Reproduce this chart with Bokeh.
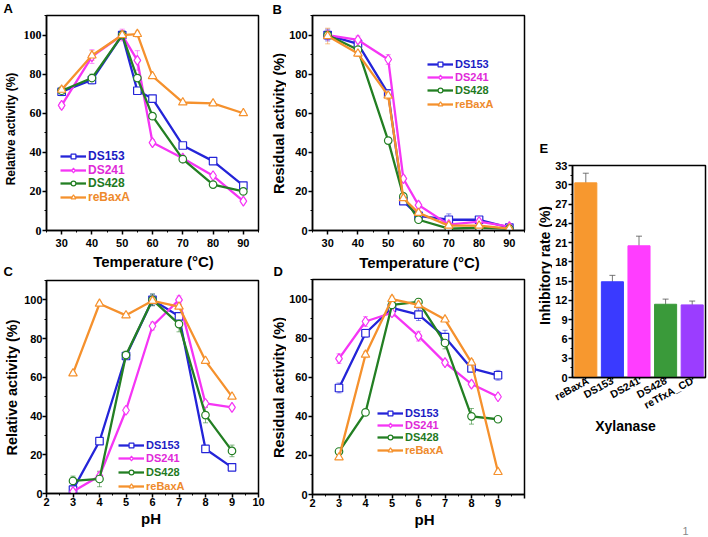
import math
from bokeh.plotting import figure
from bokeh.models import (ColumnDataSource, Whisker, TeeHead, Legend, LegendItem, Label,
                          SingleIntervalTicker, FactorRange, Range1d)
from bokeh.layouts import row, column
from bokeh.embed import file_html
from bokeh.resources import INLINE

SANS = "Liberation Sans"
SERIF = "Liberation Serif"

# ---------------- data ----------------
series = ["DS153", "DS241", "DS428", "reBaxA"]

temp = [30, 40, 50, 55, 60, 70, 80, 90]
ph = [3, 4, 5, 6, 7, 8, 9]

# A: relative activity vs temperature
a_ds153 = [71, 77, 100, 71.5, 67.5, 43.5, 35.5, 23]
a_ds241 = [64, 89, 100, 87, 45, 37, 28, 15]
a_ds428 = [71.5, 78, 100, 78, 58.5, 36.5, 23.5, 20]
a_rebaxa = [72, 89.5, 100, 100.5, 79, 65.5, 65, 60]
a_err_ds153 = [2, 2, 2, 1, 1.5, 1, 1, 1]
a_err_ds241 = [1.5, 3.5, 3, 5, 1.5, 1, 1, 1]
a_err_ds428 = [1.5, 2, 2, 1.5, 1, 1, 1, 1]
a_err_rebaxa = [1.5, 2.5, 2, 1.5, 1, 1, 1, 1]

# B: residual activity vs temperature
b_ds153 = [100, 95.5, 70, 15, 7.5, 5.5, 5.5, 1.5]
b_ds241 = [100, 97.5, 87.5, 26.5, 13, 3, 4.5, 2]
b_ds428 = [100, 92.5, 46, 17.5, 5.5, 1, 1.5, 1]
b_rebaxa = [99.5, 90.5, 69, 16.5, 9, 2.5, 2.5, 1]
b_err_ds153 = [3, 2, 2, 1.5, 1, 3, 1.5, 1]
b_err_ds241 = [2, 2, 2.5, 1.5, 1.5, 1, 1.5, 1]
b_err_ds428 = [2, 1.5, 1.5, 1, 1, 0.5, 0.5, 0.5]
b_err_rebaxa = [4, 1.5, 2, 1, 1, 0.5, 0.5, 0.5]

# C: relative activity vs pH
c_ds153 = [2, 27, 71, 100, 91.5, 23, 13.5]
c_ds241 = [1, 9, 43, 86.5, 100, 46.5, 44.5]
c_ds428 = [6.5, 7.5, 71.5, 100, 87.5, 40.5, 22]
c_rebaxa = [62, 98, 92, 99.5, 96.5, 68.5, 50]
c_err_ds153 = [1, 1.5, 1.5, 3, 2, 1, 1]
c_err_ds241 = [1, 2, 1.5, 2, 2, 1.5, 1]
c_err_ds428 = [2.5, 4, 2, 3, 4, 4, 3]
c_err_rebaxa = [1, 1, 1, 1.5, 1, 1, 1]

# D: residual activity vs pH
d_ds153 = [54.5, 82.5, 95.5, 92, 80.5, 64.5, 61]
d_ds241 = [69.5, 88.5, 93, 81, 67.5, 56.5, 50]
d_ds428 = [22, 42, 97, 98.5, 77.5, 40, 38.5]
d_rebaxa = [19, 71.5, 100, 97, 89.5, 67.5, 11.5]
d_err_ds153 = [2.5, 2, 2, 3, 3.5, 1.5, 2.5]
d_err_ds241 = [2.5, 2.5, 2, 2.5, 1.5, 1.5, 1]
d_err_ds428 = [1, 1, 1.5, 1.5, 3, 4, 1]
d_err_rebaxa = [1, 1.5, 1.5, 1.5, 1, 1.5, 1]

# E: inhibitory rate
e_names = ["reBaxA", "DS153", "DS241", "DS428", "reTfxA_CD"]
e_vals = [30.3, 14.9, 20.5, 11.4, 11.3]
e_errs = [1.5, 1.0, 1.5, 0.8, 0.6]

# ---------------- styles ----------------
line_colors = {"DS153": "#2424d8", "DS241": "#f535f5", "DS428": "#237f23", "reBaxA": "#f5912d"}
text_colors = {"DS153": "#1c1cc4", "DS241": "#e02ad8", "DS428": "#1f7a1f", "reBaxA": "#ee8a2c"}
markers = {"DS153": "square", "DS241": "diamond", "DS428": "circle", "reBaxA": "triangle"}
msizes = {"DS153": 7.5, "DS241": 10, "DS428": 7.5, "reBaxA": 8.5}
bar_colors = ["#f7982f", "#3a3aff", "#ff3dff", "#3a9a3a", "#9b3dff"]
H = 536


def style_axes(p, ytick_font=SANS, ytick_size="11px", xtick_size="11px", xstand=4, ystand=1):
    p.xgrid.visible = False
    p.ygrid.visible = False
    p.outline_line_color = "black"
    p.outline_line_width = 1.5
    p.outline_line_alpha = 1.0
    for ax in (p.xaxis[0], p.yaxis[0]):
        ax.axis_line_width = 1.5
        ax.major_tick_line_width = 1.5
        ax.minor_tick_line_width = 1.0
        ax.major_tick_in = 0
        ax.major_tick_out = 4
        ax.minor_tick_in = 0
        ax.minor_tick_out = 2
        ax.major_label_text_font_style = "bold"
        ax.major_label_text_color = "black"
    p.xaxis[0].major_label_standoff = xstand
    p.yaxis[0].major_label_standoff = ystand
    p.xaxis[0].major_label_text_font = SANS
    p.xaxis[0].major_label_text_font_size = xtick_size
    p.yaxis[0].major_label_text_font = ytick_font
    p.yaxis[0].major_label_text_font_size = ytick_size


def add_text(p, text, x, y, size="13px", angle=0.0, align="left", color="black", bold=True):
    p.add_layout(Label(x=x, y=y, x_units="screen", y_units="screen", text=text, angle=angle,
                       text_font=SANS, text_font_style="bold" if bold else "normal",
                       text_font_size=size, text_baseline="middle", text_align=align,
                       text_color=color))


def strip(width, height):
    s = figure(width=width, height=height, x_range=Range1d(0, 1), y_range=Range1d(0, 1),
               x_axis_type=None, y_axis_type=None, output_backend="svg",
               toolbar_location=None, min_border_left=0, min_border_right=0,
               min_border_top=0, min_border_bottom=0)
    s.outline_line_color = None
    s.xgrid.visible = False
    s.ygrid.visible = False
    return s


def line_panel(xs, ys, errs, x_range, x_interval, width, height, borders,
               legend_x, legend_ys, legend_font, xstand, ystand,
               ytick_font=SANS, ytick_size="11px", hide_last=False):
    left, right, top, bottom = borders
    p = figure(width=width, height=height, x_range=Range1d(*x_range), y_range=Range1d(0, 110),
               output_backend="svg", toolbar_location=None,
               min_border_left=left, min_border_right=right,
               min_border_top=top, min_border_bottom=bottom)
    p.xaxis[0].ticker = SingleIntervalTicker(interval=x_interval, num_minor_ticks=2)
    p.yaxis[0].ticker = SingleIntervalTicker(interval=20, num_minor_ticks=2)
    style_axes(p, ytick_font=ytick_font, ytick_size=ytick_size, xstand=xstand, ystand=ystand)
    if hide_last:
        p.xaxis[0].major_label_overrides = {x_range[1]: ""}
    for i, name in enumerate(series):
        c = line_colors[name]
        vals = ys[name]
        er = errs[name]
        wsrc = ColumnDataSource(dict(x=xs, upper=[v + e for v, e in zip(vals, er)],
                                     lower=[v - e for v, e in zip(vals, er)]))
        p.add_layout(Whisker(source=wsrc, base="x", upper="upper", lower="lower",
                             line_color=c, line_alpha=0.55, line_width=1,
                             upper_head=TeeHead(size=5, line_color=c, line_alpha=0.55, line_width=1),
                             lower_head=TeeHead(size=5, line_color=c, line_alpha=0.55, line_width=1)))
        lr = p.line(xs, vals, line_color=c, line_width=2.3)
        sr = p.scatter(xs, vals, marker=markers[name], size=msizes[name], line_color=c,
                       line_width=1.2, fill_color="white")
        leg = Legend(items=[LegendItem(label=name, renderers=[lr, sr])],
                     location=(legend_x, legend_ys[i]), orientation="vertical",
                     background_fill_alpha=0, border_line_alpha=0,
                     padding=0, margin=0, spacing=0,
                     glyph_width=26, glyph_height=12, label_height=12,
                     label_standoff=2,
                     label_text_font=SANS, label_text_font_style="bold",
                     label_text_font_size=legend_font, label_text_color=text_colors[name])
        p.add_layout(leg)
    return p


A = line_panel(temp,
               {"DS153": a_ds153, "DS241": a_ds241, "DS428": a_ds428, "reBaxA": a_rebaxa},
               {"DS153": a_err_ds153, "DS241": a_err_ds241, "DS428": a_err_ds428, "reBaxA": a_err_rebaxa},
               (25, 95), 10, 245, 252, (23, 7, 15, 22), 14, [67, 53, 40, 26], "12px", 4, 1,
               ytick_font=SERIF, ytick_size="12px")
B = line_panel(temp,
               {"DS153": b_ds153, "DS241": b_ds241, "DS428": b_ds428, "reBaxA": b_rebaxa},
               {"DS153": b_err_ds153, "DS241": b_err_ds241, "DS428": b_err_ds428, "reBaxA": b_err_rebaxa},
               (25, 95), 10, 244, 252, (24, 6, 15, 22), 115, [160, 147, 134, 120], "11px", 4, 1)
C = line_panel(ph,
               {"DS153": c_ds153, "DS241": c_ds241, "DS428": c_ds428, "reBaxA": c_rebaxa},
               {"DS153": c_err_ds153, "DS241": c_err_ds241, "DS428": c_err_ds428, "reBaxA": c_err_rebaxa},
               (2, 10), 1, 245, 233, (23, 7, 2, 18), 72, [42, 29, 15, 1], "11px", 0, 0)
D = line_panel(ph,
               {"DS153": d_ds153, "DS241": d_ds241, "DS428": d_ds428, "reBaxA": d_rebaxa},
               {"DS153": d_err_ds153, "DS241": d_err_ds241, "DS428": d_err_ds428, "reBaxA": d_err_rebaxa},
               (2, 10), 1, 244, 233, (24, 6, 1, 17), 65, [75, 63, 51, 38], "11px", 0, 1,
               hide_last=True)

# text strips (axis titles and panel letters)
S0 = strip(20, H)
add_text(S0, "A", 3, H - 8)
add_text(S0, "C", 3, H - 271)
add_text(S0, "Relative activity (%)", 10, H - 128.5, size="12px", align="center", angle=math.pi / 2)
add_text(S0, "Relative activity (%)", 11, H - 387, size="14.5px", align="center", angle=math.pi / 2)

S2 = strip(21, H)
add_text(S2, "B", 7, H - 8.5)
add_text(S2, "D", 8, H - 271)
add_text(S2, "Residual activity (%)", 13, H - 123, size="14.5px", align="center", angle=math.pi / 2)
add_text(S2, "Residual activity (%)", 13, H - 387, size="14.5px", align="center", angle=math.pi / 2)

# these strips share the frame edges of the panels above them in their columns
SA = strip(245, 26)
add_text(SA, "Temperature (°C)", 107, 17.5, size="15px", align="center")
SB = strip(244, 26)
add_text(SB, "Temperature (°C)", 107, 16.5, size="15px", align="center")
SC = strip(245, 25)
add_text(SC, "pH", 104.5, 18, size="15px", align="center")
SD = strip(244, 25)
add_text(SD, "pH", 112, 17.5, size="15px", align="center")

# ---------------- E ----------------
E = figure(width=155, height=419, x_range=FactorRange(*e_names, range_padding=0),
           y_range=Range1d(0, 33), output_backend="svg", toolbar_location=None,
           min_border_left=19, min_border_right=2, min_border_top=165, min_border_bottom=39)
E.vbar(x=e_names, top=e_vals, width=0.83, fill_color=bar_colors, line_color=bar_colors)
esrc = ColumnDataSource(dict(x=e_names, upper=[v + e for v, e in zip(e_vals, e_errs)],
                             lower=[v - e for v, e in zip(e_vals, e_errs)]))
E.add_layout(Whisker(source=esrc, base="x", upper="upper", lower="lower",
                     line_color="#555555", line_width=0.8,
                     upper_head=TeeHead(size=6, line_color="#555555", line_width=0.8),
                     lower_head=TeeHead(size=6, line_color="#555555", line_width=0.8)))
E.yaxis[0].ticker = SingleIntervalTicker(interval=3, num_minor_ticks=2)
style_axes(E, ytick_size="11px", xtick_size="10.5px", xstand=0, ystand=1)
E.xaxis[0].major_tick_out = 2
E.xaxis[0].major_label_orientation = 0.5

S4 = strip(22, H)
add_text(S4, "E", 9, H - 148)
add_text(S4, "Inhibitory rate (%)", 14, H - 265, size="14px", align="center", angle=math.pi / 2)

SE = strip(155, H - 419)
add_text(SE, "Xylanase", 53, (H - 419) - (425 - 419), size="14px", align="center")
add_text(SE, "1", 113, 6, size="11px", align="center", color="#888888", bold=False)

layout = row(S0, column(A, SA, C, SC), S2, column(B, SB, D, SD), S4, column(E, SE))

open("out.html", "w").write(file_html(layout, INLINE))
